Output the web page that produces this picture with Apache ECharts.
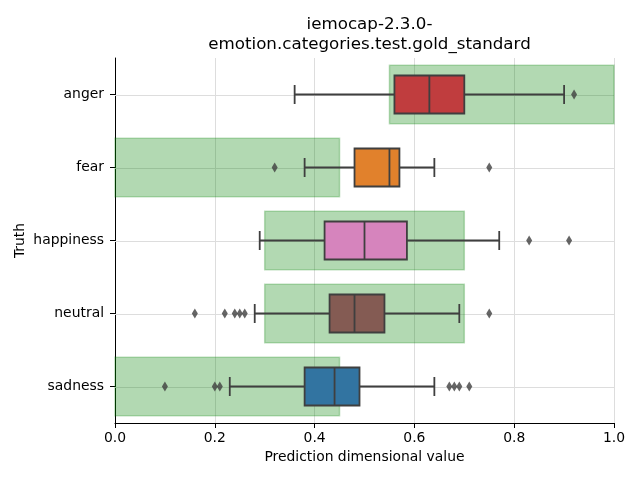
<!DOCTYPE html>
<html><head><meta charset="utf-8">
<script src="https://cdn.jsdelivr.net/npm/echarts@6/dist/echarts.min.js"></script>
<style>html,body{margin:0;padding:0;background:#fff}#c{width:640px;height:480px}</style>
</head><body><div id="c"></div>
<script>
var categories = ['anger', 'fear', 'happiness', 'neutral', 'sadness'];
var rangeLow  = [0.55, 0.00, 0.30, 0.30, 0.00];
var rangeHigh = [1.00, 0.45, 0.70, 0.70, 0.45];
var whiskerLow  = [0.36, 0.38, 0.29, 0.28, 0.23];
var q1          = [0.56, 0.48, 0.42, 0.43, 0.38];
var median      = [0.63, 0.55, 0.50, 0.48, 0.44];
var q3          = [0.70, 0.57, 0.585, 0.54, 0.49];
var whiskerHigh = [0.90, 0.64, 0.77, 0.69, 0.64];
var outliersAnger = [0.92];
var outliersFear = [0.32, 0.75];
var outliersHappiness = [0.83, 0.91];
var outliersNeutral = [0.16, 0.22, 0.24, 0.25, 0.26, 0.75];
var outliersSadness = [0.10, 0.20, 0.21, 0.67, 0.68, 0.69, 0.71];
var xTicks = [0.0, 0.2, 0.4, 0.6, 0.8, 1.0];
var palette = ['#c03d3e', '#e1812c', '#d684bd', '#845b53', '#3274a1'];

var outlierLists = [outliersAnger, outliersFear, outliersHappiness, outliersNeutral, outliersSadness];
var rangeData = categories.map(function (c, i) { return [c, rangeLow[i], rangeHigh[i]]; });
var boxData = categories.map(function (c, i) { return [c, whiskerLow[i], q1[i], median[i], q3[i], whiskerHigh[i]]; });
var outData = [];
outlierLists.forEach(function (arr, i) { arr.forEach(function (v) { outData.push([v, categories[i]]); }); });
var gridData = categories.map(function (c) { return [c]; });

var FONT = 'DejaVu Sans';
var chart = echarts.init(document.getElementById('c'), null, {renderer: 'canvas'});
chart.setOption({
  animation: false,
  backgroundColor: '#ffffff',
  title: {
    text: 'iemocap-2.3.0-\nemotion.categories.test.gold_standard',
    left: 364.5, top: 9, textAlign: 'center',
    textStyle: {fontFamily: FONT, fontSize: 16.7, fontWeight: 'normal', color: '#000', lineHeight: 20.5}
  },
  grid: {left: 115, right: 26, top: 58, bottom: 57, containLabel: false},
  xAxis: {
    type: 'value', min: 0, max: 1, interval: 0.2,
    name: 'Prediction dimensional value', nameLocation: 'middle', nameGap: 27,
    nameMoveOverlap: false,
    nameTextStyle: {fontFamily: FONT, fontSize: 13.9, color: '#000'},
    axisLine: {show: true, lineStyle: {color: '#000', width: 1}},
    axisTick: {show: true, length: 5, lineStyle: {color: '#000'}},
    axisLabel: {fontFamily: FONT, fontSize: 13.9, color: '#000', margin: 8,
      formatter: function (v) { return v.toFixed(1); }},
    splitLine: {show: true, lineStyle: {color: '#dddddd', width: 1}}
  },
  yAxis: {
    type: 'category', data: categories, inverse: true,
    name: 'Truth', nameLocation: 'middle', nameGap: 88,
    nameMoveOverlap: false,
    nameTextStyle: {fontFamily: FONT, fontSize: 13.9, color: '#000'},
    axisLine: {show: true, lineStyle: {color: '#000', width: 1}},
    axisTick: {show: true, alignWithLabel: true, length: 5, lineStyle: {color: '#000'}},
    axisLabel: {fontFamily: FONT, fontSize: 13.9, color: '#000', margin: 11},
    splitLine: {show: false}
  },
  series: [
    {
      type: 'custom', z: 1, silent: true, data: gridData,
      encode: {y: 0},
      renderItem: function (params, api) {
        var cat = api.value(0);
        var a = api.coord([0, cat]), b = api.coord([1, cat]);
        return {type: 'line', shape: {x1: a[0], y1: Math.round(a[1]) + 0.5, x2: b[0], y2: Math.round(b[1]) + 0.5},
          style: {stroke: '#dddddd', lineWidth: 1}};
      }
    },
    {
      type: 'custom', z: 2, silent: true, data: rangeData,
      encode: {x: [1, 2], y: 0},
      renderItem: function (params, api) {
        var cat = api.value(0);
        var a = api.coord([api.value(1), cat]), b = api.coord([api.value(2), cat]);
        var h = api.size([0, 1])[1] * 0.8;
        return {type: 'rect', shape: {x: a[0], y: a[1] - h / 2, width: b[0] - a[0], height: h},
          style: {fill: 'rgba(0,128,0,0.3)', stroke: 'rgba(0,128,0,0.25)', lineWidth: 1.5}};
      }
    },
    {
      type: 'custom', z: 3, silent: true, data: boxData,
      encode: {x: [1, 2, 3, 4, 5], y: 0},
      renderItem: function (params, api) {
        var cat = api.value(0);
        var pts = [1, 2, 3, 4, 5].map(function (d) { return api.coord([api.value(d), cat]); });
        var y = pts[0][1];
        var h = api.size([0, 1])[1] * 0.52;
        var cap = h / 4;
        var lc = '#3f3f3f', lw = 1.8;
        var fill = palette[params.dataIndex];
        return {type: 'group', children: [
          {type: 'line', shape: {x1: pts[0][0], y1: y, x2: pts[1][0], y2: y}, style: {stroke: lc, lineWidth: lw}},
          {type: 'line', shape: {x1: pts[3][0], y1: y, x2: pts[4][0], y2: y}, style: {stroke: lc, lineWidth: lw}},
          {type: 'line', shape: {x1: pts[0][0], y1: y - cap, x2: pts[0][0], y2: y + cap}, style: {stroke: lc, lineWidth: lw}},
          {type: 'line', shape: {x1: pts[4][0], y1: y - cap, x2: pts[4][0], y2: y + cap}, style: {stroke: lc, lineWidth: lw}},
          {type: 'rect', shape: {x: pts[1][0], y: y - h / 2, width: pts[3][0] - pts[1][0], height: h},
            style: {fill: fill, stroke: lc, lineWidth: lw}},
          {type: 'line', shape: {x1: pts[2][0], y1: y - h / 2, x2: pts[2][0], y2: y + h / 2}, style: {stroke: lc, lineWidth: lw}}
        ]};
      }
    },
    {
      type: 'scatter', z: 4, silent: true, data: outData,
      symbol: 'diamond', symbolSize: [6, 10],
      itemStyle: {color: '#3f3f3f'}
    }
  ]
});
</script></body></html>
